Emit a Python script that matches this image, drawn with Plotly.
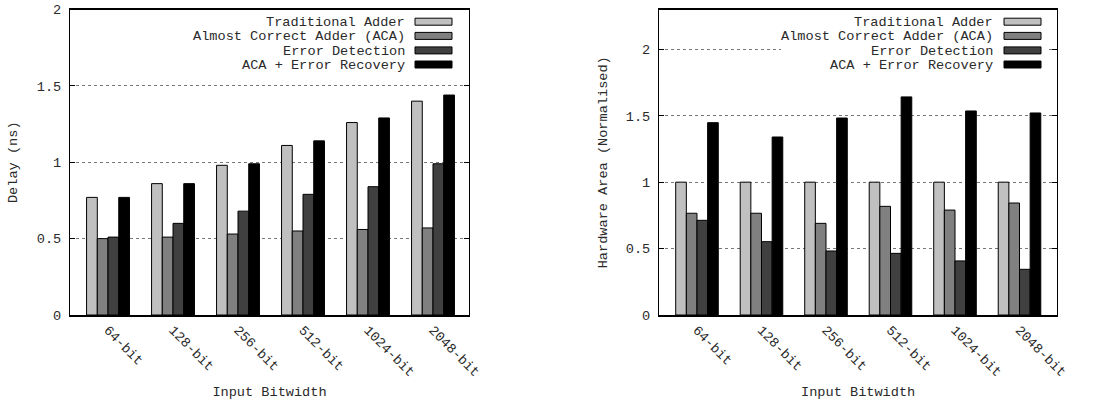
import plotly.graph_objects as go

W, H = 1096, 401

categories = ["64-bit", "128-bit", "256-bit", "512-bit", "1024-bit", "2048-bit"]
series_names = ["Traditional Adder", "Almost Correct Adder (ACA)", "Error Detection", "ACA + Error Recovery"]
series_colors = ["#c0c0c0", "#808080", "#404040", "#000000"]

delay_trad = [0.77, 0.86, 0.98, 1.11, 1.26, 1.40]
delay_aca = [0.50, 0.51, 0.53, 0.55, 0.56, 0.57]
delay_ed = [0.51, 0.60, 0.68, 0.79, 0.84, 0.99]
delay_acaer = [0.77, 0.86, 0.99, 1.14, 1.29, 1.44]

area_trad = [1.0, 1.0, 1.0, 1.0, 1.0, 1.0]
area_aca = [0.766, 0.766, 0.69, 0.818, 0.79, 0.843]
area_ed = [0.713, 0.552, 0.482, 0.464, 0.407, 0.344]
area_acaer = [1.448, 1.340, 1.483, 1.642, 1.536, 1.521]

delay_ticks = [0, 0.5, 1, 1.5, 2]
area_ticks = [0, 0.5, 1, 1.5, 2]

FONT = "Liberation Mono, Courier New, monospace"
FS = 13.6
TXT = "#2a2a2a"

def px(x):
    return x / W

def py(y):
    return (H - y) / H

fig = go.Figure()

delay_sets = [delay_trad, delay_aca, delay_ed, delay_acaer]
area_sets = [area_trad, area_aca, area_ed, area_acaer]

for name, color, vals in zip(series_names, series_colors, delay_sets):
    fig.add_trace(go.Bar(x=categories, y=vals, name=name, marker=dict(color=color, line=dict(color="#000000", width=1)),
                         xaxis="x", yaxis="y", showlegend=False))
for name, color, vals in zip(series_names, series_colors, area_sets):
    fig.add_trace(go.Bar(x=categories, y=vals, name=name, marker=dict(color=color, line=dict(color="#000000", width=1)),
                         xaxis="x2", yaxis="y2", showlegend=False))

common_x = dict(type="category", tickangle=45, showline=True, linecolor="#000", linewidth=1.5, mirror=True,
                ticks="", showgrid=False, tickfont=dict(family=FONT, size=FS, color=TXT),
                title=dict(text="Input Bitwidth", font=dict(family=FONT, size=FS, color=TXT), standoff=7),
                automargin=False, fixedrange=True)
common_y = dict(showline=True, linecolor="#000", linewidth=1, mirror="allticks", ticks="inside", ticklen=5,
                tickcolor="#000", showgrid=True, gridcolor="#777777", griddash="dot", gridwidth=1,
                zeroline=False, tickfont=dict(family=FONT, size=FS, color=TXT), ticklabelstandoff=5,
                automargin=False, fixedrange=True)

fig.update_layout(
    width=W, height=H,
    margin=dict(l=0, r=0, t=0, b=0),
    paper_bgcolor="white", plot_bgcolor="white",
    barmode="group", bargap=0.34, bargroupgap=0,
    font=dict(family=FONT, size=FS, color=TXT),
    xaxis=dict(common_x, domain=[px(70), px(469)], range=[-0.585, 5.554], anchor="y"),
    yaxis=dict(common_y, domain=[py(315), py(9.5)], range=[0, 2], tickvals=delay_ticks,
               ticktext=[f"{v:g}" for v in delay_ticks], anchor="x",
               title=dict(text="Delay (ns)", font=dict(family=FONT, size=FS, color=TXT), standoff=16)),
    xaxis2=dict(common_x, domain=[px(659), px(1057.3)], range=[-0.589, 5.586], anchor="y2"),
    yaxis2=dict(common_y, domain=[py(315), py(9.5)], range=[0, 2.3], tickvals=area_ticks,
                ticktext=[f"{v:g}" for v in area_ticks], anchor="x2",
                title=dict(text="Hardware Area (Normalised)", font=dict(family=FONT, size=FS, color=TXT), standoff=15)),
)

# custom legends (text right-aligned, swatch on the right)
row_y = [22.5, 36.5, 51.2, 65.2]
sw_y = [21.7, 35.9, 50.4, 64.5]
shapes = []
annotations = []
for text_right, sw_left, sw_right, box_left in [(406.7, 415, 452, 190), (994.7, 1004, 1041, 781)]:
    shapes.append(dict(type="rect", xref="paper", yref="paper", x0=px(box_left), x1=px(sw_right + 6),
                       y0=py(72), y1=py(14), fillcolor="white", line=dict(width=0), layer="above"))
    for name, color, yy, sy in zip(series_names, series_colors, row_y, sw_y):
        annotations.append(dict(text=name, xref="paper", yref="paper", x=px(text_right), y=py(yy),
                                xanchor="right", yanchor="middle", showarrow=False,
                                font=dict(family=FONT, size=FS, color=TXT)))
        shapes.append(dict(type="rect", xref="paper", yref="paper", x0=px(sw_left), x1=px(sw_right),
                           y0=py(sy + 3.5), y1=py(sy - 3.5), fillcolor=color,
                           line=dict(color="#000", width=1), layer="above"))

fig.update_layout(shapes=shapes, annotations=annotations)

fig.write_html("out.html", config={"displayModeBar": False},
               post_script="document.body.style.margin='0';document.body.style.overflow='hidden';")
